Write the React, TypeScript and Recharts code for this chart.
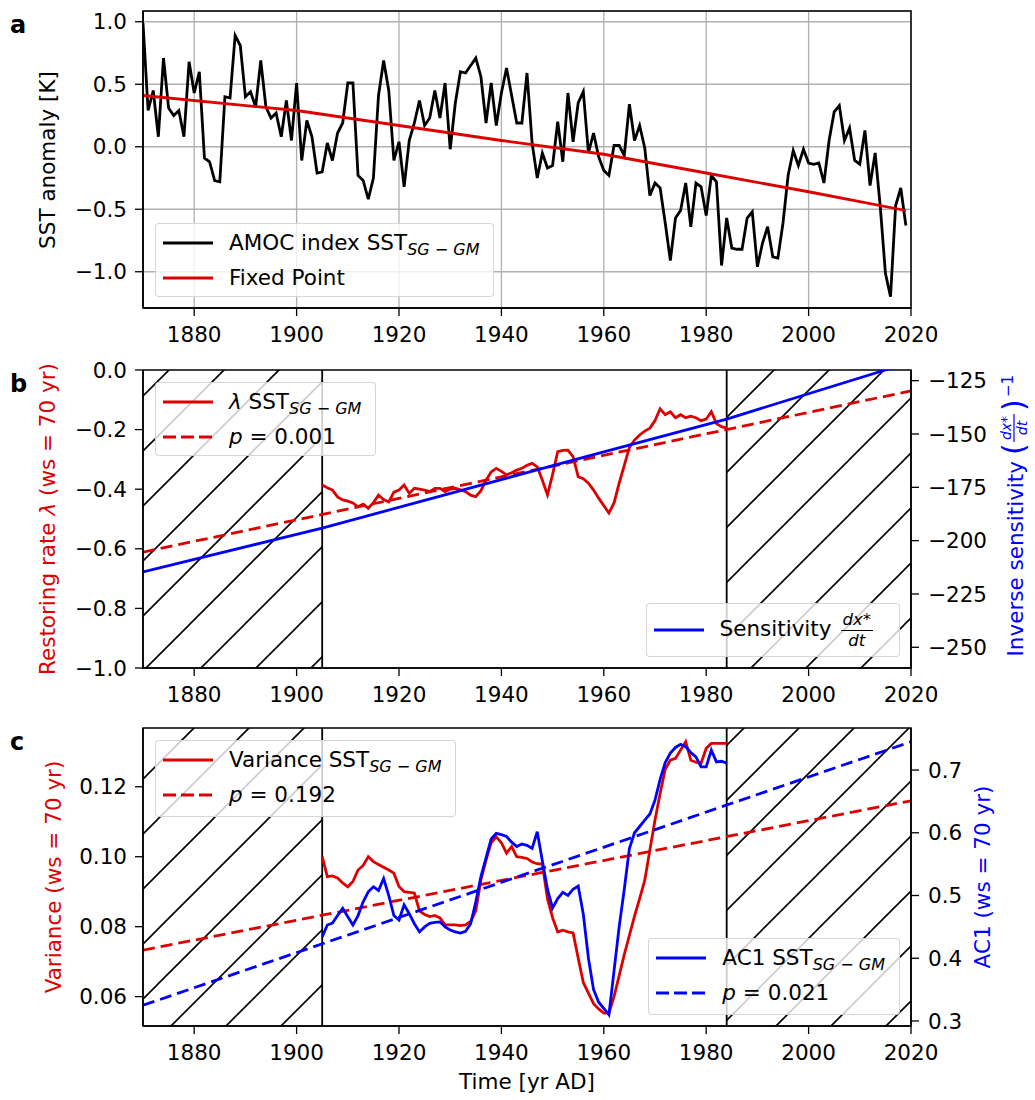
import React from "react";
import {
  LineChart,
  Line,
  XAxis,
  YAxis,
  CartesianGrid,
  ReferenceArea,
  ReferenceLine,
} from "recharts";

const FONT = '"DejaVu Sans", sans-serif';
const RED = "#dc0000";
const BLUE = "#0000ff";

// ---- shared
const yearTicks = [1880, 1900, 1920, 1940, 1960, 1980, 2000, 2020];

// ---- panel a: AMOC index SST(SG-GM), yearly 1870..2019
const sstStart = 1870;
const sstAnomaly = [
  0.99, 0.29, 0.45, 0.08, 0.71, 0.31, 0.25, 0.29, 0.08, 0.68,
  0.43, 0.6, -0.09, -0.12, -0.27, -0.28, 0.4, 0.39, 0.89, 0.81,
  0.4, 0.44, 0.32, 0.69, 0.32, 0.23, 0.27, 0.08, 0.37, 0.05,
  0.51, -0.11, 0.21, 0.08, -0.21, -0.2, 0.03, -0.11, 0.11, 0.19,
  0.51, 0.51, -0.23, -0.27, -0.42, -0.25, 0.41, 0.69, 0.45, -0.11,
  0.04, -0.32, 0.05, 0.19, 0.37, 0.17, 0.23, 0.45, 0.23, 0.51,
  -0.02, 0.35, 0.6, 0.59, 0.65, 0.71, 0.56, 0.19, 0.51, 0.17,
  0.43, 0.63, 0.41, 0.19, 0.19, 0.59, 0.03, -0.25, -0.05, -0.17,
  -0.15, 0.2, -0.12, 0.43, 0.04, 0.35, 0.44, -0.05, 0.11, -0.08,
  -0.19, -0.23, 0.01, 0.01, -0.07, 0.34, 0.05, 0.17, -0.01, -0.39,
  -0.29, -0.33, -0.61, -0.91, -0.57, -0.51, -0.29, -0.64, -0.29, -0.32,
  -0.55, -0.23, -0.28, -0.95, -0.57, -0.81, -0.82, -0.82, -0.57, -0.52,
  -0.96, -0.77, -0.64, -0.88, -0.89, -0.61, -0.23, -0.03, -0.15, -0.02,
  -0.13, -0.14, -0.13, -0.29, 0.05, 0.28, 0.33, 0.05, 0.15, -0.11,
  -0.14, 0.13, -0.31, -0.05, -0.48, -1.01, -1.2, -0.47, -0.33, -0.63,
];
const fixedPointYears = [1870, 1900, 1920, 1940, 1960, 1980, 2000, 2019];
const fixedPointValues = [0.41, 0.29, 0.17, 0.05, -0.06, -0.21, -0.36, -0.51];

// ---- panel b: restoring rate, window 1905..1984
const windowStart = 1905;
const lambdaValues = [
  -0.386, -0.395, -0.403, -0.426, -0.436, -0.44, -0.446, -0.459, -0.45, -0.464,
  -0.445, -0.42, -0.435, -0.443, -0.41, -0.403, -0.386, -0.414, -0.397, -0.4,
  -0.403, -0.408, -0.397, -0.397, -0.408, -0.4, -0.397, -0.402, -0.408, -0.42,
  -0.425, -0.405, -0.37, -0.342, -0.33, -0.34, -0.352, -0.345, -0.336, -0.33,
  -0.32, -0.313, -0.325, -0.37, -0.419, -0.35, -0.274, -0.27, -0.269, -0.291,
  -0.358, -0.365, -0.38, -0.403, -0.43, -0.455, -0.48, -0.446, -0.38, -0.32,
  -0.26, -0.235, -0.218, -0.205, -0.195, -0.17, -0.13, -0.15, -0.14, -0.16,
  -0.15, -0.16, -0.155, -0.16, -0.17, -0.165, -0.14, -0.18, -0.19, -0.195,
];
const trendYears = [1870, 2020];
const lambdaTrend = [-0.611, -0.07];
const sensYears = [1870, 1905, 1960, 1984, 2015, 2020];
const sensValues = [-214.7, -194.1, -158.4, -143.0, -120.0, -116.5];

// ---- panel c: variance and AC1, window 1905..1984
const varianceValues = [
  0.1, 0.0943, 0.0945, 0.0939, 0.0925, 0.0914, 0.0929, 0.0962, 0.0975, 0.1,
  0.0986, 0.0978, 0.097, 0.0962, 0.0953, 0.0915, 0.09, 0.0898, 0.0896, 0.0845,
  0.0835, 0.0829, 0.0832, 0.0825, 0.0805, 0.0805, 0.0805, 0.0803, 0.0805, 0.0815,
  0.0845, 0.0934, 0.099, 0.104, 0.1057, 0.104, 0.101, 0.1029, 0.1, 0.0998,
  0.0995, 0.0985, 0.098, 0.0979, 0.088, 0.0825, 0.0785, 0.079, 0.0785, 0.0782,
  0.071, 0.064, 0.061, 0.058, 0.0565, 0.0553, 0.0553, 0.06, 0.066, 0.072,
  0.0775, 0.083, 0.088, 0.0933, 0.1019, 0.1105, 0.1181, 0.125, 0.1276, 0.1281,
  0.1305, 0.1329, 0.1276, 0.127, 0.1267, 0.131, 0.1324, 0.1324, 0.1324, 0.1324,
];
const ac1Values = [
  0.434, 0.453, 0.456, 0.468, 0.4795, 0.466, 0.453, 0.468, 0.49, 0.506,
  0.514, 0.508, 0.527, 0.5, 0.468, 0.461, 0.485, 0.471, 0.455, 0.442,
  0.45, 0.4555, 0.457, 0.458, 0.45, 0.445, 0.442, 0.44, 0.443, 0.455,
  0.49, 0.53, 0.56, 0.59, 0.599, 0.597, 0.594, 0.585, 0.578, 0.582,
  0.58, 0.575, 0.6016, 0.555, 0.51, 0.48, 0.495, 0.505, 0.5, 0.51,
  0.515, 0.47, 0.4, 0.35, 0.33, 0.32, 0.31, 0.38, 0.45, 0.51,
  0.575, 0.6, 0.61, 0.62, 0.63, 0.652, 0.685, 0.712, 0.727, 0.736,
  0.741, 0.737, 0.728, 0.721, 0.705, 0.705, 0.732, 0.713, 0.714, 0.711,
];
const varianceTrend = [0.0733, 0.116];
const ac1Trend = [0.325, 0.745];

// tables for recharts
const series = (years: number[], values: number[]) =>
  years.map((year, i) => ({ year, v: values[i] }));
const fromStart = (start: number, values: number[]) =>
  values.map((v, i) => ({ year: start + i, v }));

const sstData = fromStart(sstStart, sstAnomaly);
const fixedData = series(fixedPointYears, fixedPointValues);
const lambdaData = fromStart(windowStart, lambdaValues);
const lambdaTrendData = series(trendYears, lambdaTrend);
const sensData = series(sensYears, sensValues);
const varianceData = fromStart(windowStart, varianceValues);
const ac1Data = fromStart(windowStart, ac1Values);
const varianceTrendData = series(trendYears, varianceTrend);
const ac1TrendData = series(trendYears, ac1Trend);

const minus = (s: string) => s.replace("-", "\u2212");
const fmt1 = (v: number) => minus(v.toFixed(1));
const fmt2 = (v: number) => v.toFixed(2);
const fmtInt = (v: number) => minus(String(v));

const tick = { fill: "#000", fontSize: 21.5, fontFamily: FONT };
const axisLine = { stroke: "#000", strokeWidth: 1.5 };
const tickLine = { stroke: "#000", strokeWidth: 1.3 };

const xAxisProps = {
  dataKey: "year",
  type: "number" as const,
  domain: [1870, 2020],
  ticks: yearTicks,
  interval: 0 as const,
  tick,
  axisLine,
  tickLine,
  tickSize: 8,
  tickMargin: 11,
  height: 30,
  allowDataOverflow: true,
};

const lineBase = {
  dataKey: "v",
  dot: false,
  activeDot: false,
  isAnimationActive: false,
  strokeWidth: 2.8,
};

const Hatch = ({ id, shift }: { id: string; shift: number }) => (
  <defs>
    <pattern id={id} patternUnits="userSpaceOnUse" width={55} height={55} x={shift}>
      <path d="M0,55 L55,0 M-5,5 L5,-5 M50,60 L60,50" stroke="#000" strokeWidth={1.6} />
    </pattern>
  </defs>
);

const Sub = () => (
  <sub style={{ fontSize: 16, fontStyle: "italic", verticalAlign: "-0.3em", lineHeight: 0 }}>
    SG − GM
  </sub>
);

const Frac = ({ num, den }: { num: string; den: string }) => (
  <span
    style={{
      display: "inline-flex",
      flexDirection: "column",
      alignItems: "center",
      verticalAlign: "middle",
      fontStyle: "italic",
      fontSize: 16.5,
      lineHeight: 1.05,
      margin: "0 4px 0 9px",
    }}
  >
    <span style={{ borderBottom: "1.3px solid #000", padding: "0 2px 1px" }}>{num}</span>
    <span style={{ paddingTop: 1 }}>{den}</span>
  </span>
);

type Row = { color: string; dashed?: boolean; label: React.ReactNode; height?: number };

function LegendBox({ pos, rows, padBottom = 1, padRight = 14 }: { pos: React.CSSProperties; rows: Row[]; padBottom?: number; padRight?: number }) {
  return (
    <div
      style={{
        position: "absolute",
        background: "rgba(255,255,255,0.8)",
        border: "1px solid rgba(204,204,204,0.8)",
        borderRadius: 4,
        padding: `1px ${padRight}px ${padBottom}px 7px`,
        fontFamily: FONT,
        fontSize: 21.5,
        color: "#000",
        ...pos,
      }}
    >
      {rows.map((r, i) => (
        <div key={i} style={{ display: "flex", alignItems: "center", height: r.height ?? 35 }}>
          <svg width={50} height={10} style={{ marginRight: 16, flex: "none" }}>
            <line
              x1={0}
              x2={50}
              y1={5}
              y2={5}
              stroke={r.color}
              strokeWidth={3}
              strokeDasharray={r.dashed ? "13 5" : undefined}
            />
          </svg>
          <span style={{ whiteSpace: "nowrap", lineHeight: 1 }}>{r.label}</span>
        </div>
      ))}
    </div>
  );
}

function PanelA() {
  return (
    <LineChart width={1035} height={350} margin={{ top: 11, right: 124, bottom: 12, left: 83 }}>
      <CartesianGrid stroke="#b0b0b0" strokeWidth={1.3} />
      <XAxis {...xAxisProps} />
      <YAxis
        type="number"
        domain={[-1.29, 1.086]}
        ticks={[-1, -0.5, 0, 0.5, 1]}
        interval={0}
        tickFormatter={fmt1}
        tick={tick}
        axisLine={axisLine}
        tickLine={tickLine}
        tickSize={8}
        tickMargin={8}
        width={60}
        allowDataOverflow
      />
      <ReferenceArea x1={1870} x2={2020} y1={-1.29} y2={1.086} fill="none" stroke="#000" strokeWidth={1.5} />
      <Line {...lineBase} data={sstData} stroke="#000" />
      <Line {...lineBase} data={fixedData} stroke={RED} />
      <text x={47} y={160} transform="rotate(-90 47 160)" textAnchor="middle" dominantBaseline="central" fontSize={21.5} fontFamily={FONT}>
        SST anomaly [K]
      </text>
      <text x={10} y={33} fontSize={24} fontWeight="bold" fontFamily={FONT}>a</text>
    </LineChart>
  );
}

function PanelB() {
  return (
    <LineChart width={1035} height={360} margin={{ top: 20, right: 64, bottom: 12, left: 83 }}>
      <Hatch id="hatchB" shift={24} />
      <XAxis {...xAxisProps} />
      <YAxis
        yAxisId="left"
        type="number"
        domain={[-1, 0]}
        ticks={[-1, -0.8, -0.6, -0.4, -0.2, 0]}
        interval={0}
        tickFormatter={fmt1}
        tick={tick}
        axisLine={axisLine}
        tickLine={tickLine}
        tickSize={8}
        tickMargin={8}
        width={60}
        allowDataOverflow
      />
      <YAxis
        yAxisId="right"
        orientation="right"
        type="number"
        domain={[-259.7, -120]}
        ticks={[-250, -225, -200, -175, -150, -125]}
        interval={0}
        tickFormatter={fmtInt}
        tick={tick}
        axisLine={axisLine}
        tickLine={tickLine}
        tickSize={8}
        tickMargin={9}
        width={60}
        allowDataOverflow
      />
      <ReferenceArea yAxisId="left" x1={1870} x2={1905} fill="url(#hatchB)" fillOpacity={1} stroke="none" />
      <ReferenceArea yAxisId="left" x1={1984} x2={2020} fill="url(#hatchB)" fillOpacity={1} stroke="none" />
      <ReferenceLine yAxisId="left" x={1905} stroke="#000" strokeWidth={1.8} />
      <ReferenceLine yAxisId="left" x={1984} stroke="#000" strokeWidth={1.8} />
      <ReferenceArea yAxisId="left" x1={1870} x2={2020} y1={-1} y2={0} fill="none" stroke="#000" strokeWidth={1.5} />
      <Line {...lineBase} yAxisId="left" data={lambdaTrendData} stroke={RED} strokeDasharray="12 6" />
      <Line {...lineBase} yAxisId="left" data={lambdaData} stroke={RED} />
      <Line {...lineBase} yAxisId="right" data={sensData} stroke={BLUE} />
      <text x={47} y={169} transform="rotate(-90 47 169)" textAnchor="middle" dominantBaseline="central" fontSize={21.5} fontFamily={FONT} fill={RED}>
        Restoring rate <tspan fontStyle="italic">λ</tspan> (ws = 70 yr)
      </text>
      <g transform="translate(1023 169) rotate(-90)" fill={BLUE} fontFamily={FONT}>
        <text x={58} y={0} textAnchor="end" fontSize={21.5}>Inverse sensitivity</text>
        <text x={64} y={1} fontSize={30}>(</text>
        <text x={91} y={-12} textAnchor="middle" fontSize={14} fontStyle="italic">dx*</text>
        <line x1={77} x2={105} y1={-9} y2={-9} stroke={BLUE} strokeWidth={1.2} />
        <text x={91} y={4} textAnchor="middle" fontSize={14} fontStyle="italic">dt</text>
        <text x={108} y={1} fontSize={30}>)</text>
        <text x={122} y={-10} fontSize={15}>−1</text>
      </g>
      <text x={10} y={42} fontSize={24} fontWeight="bold" fontFamily={FONT}>b</text>
    </LineChart>
  );
}

function PanelC() {
  return (
    <LineChart width={1035} height={390} margin={{ top: 18, right: 64, bottom: 44, left: 83 }}>
      <Hatch id="hatchC" shift={47} />
      <XAxis {...xAxisProps} />
      <YAxis
        yAxisId="left"
        type="number"
        domain={[0.0516, 0.1368]}
        ticks={[0.06, 0.08, 0.1, 0.12]}
        interval={0}
        tickFormatter={fmt2}
        tick={tick}
        axisLine={axisLine}
        tickLine={tickLine}
        tickSize={8}
        tickMargin={8}
        width={60}
        allowDataOverflow
      />
      <YAxis
        yAxisId="right"
        orientation="right"
        type="number"
        domain={[0.292, 0.767]}
        ticks={[0.3, 0.4, 0.5, 0.6, 0.7]}
        interval={0}
        tickFormatter={fmt1}
        tick={tick}
        axisLine={axisLine}
        tickLine={tickLine}
        tickSize={8}
        tickMargin={9}
        width={60}
        allowDataOverflow
      />
      <ReferenceArea yAxisId="left" x1={1870} x2={1905} fill="url(#hatchC)" fillOpacity={1} stroke="none" />
      <ReferenceArea yAxisId="left" x1={1984} x2={2020} fill="url(#hatchC)" fillOpacity={1} stroke="none" />
      <ReferenceLine yAxisId="left" x={1905} stroke="#000" strokeWidth={1.8} />
      <ReferenceLine yAxisId="left" x={1984} stroke="#000" strokeWidth={1.8} />
      <ReferenceArea yAxisId="left" x1={1870} x2={2020} y1={0.0516} y2={0.1368} fill="none" stroke="#000" strokeWidth={1.5} />
      <Line {...lineBase} yAxisId="left" data={varianceData} stroke={RED} />
      <Line {...lineBase} yAxisId="left" data={varianceTrendData} stroke={RED} strokeDasharray="12 6" />
      <Line {...lineBase} yAxisId="right" data={ac1Data} stroke={BLUE} />
      <Line {...lineBase} yAxisId="right" data={ac1TrendData} stroke={BLUE} strokeDasharray="12 6" />
      <text x={53} y={167} transform="rotate(-90 53 167)" textAnchor="middle" dominantBaseline="central" fontSize={21.5} fontFamily={FONT} fill={RED}>
        Variance (ws = 70 yr)
      </text>
      <text x={982} y={167} transform="rotate(-90 982 167)" textAnchor="middle" dominantBaseline="central" fontSize={21.5} fontFamily={FONT} fill={BLUE}>
        AC1 (ws = 70 yr)
      </text>
      <text x={527} y={379} textAnchor="middle" fontSize={21.5} fontFamily={FONT}>
        Time [yr AD]
      </text>
      <text x={10} y={40} fontSize={24} fontWeight="bold" fontFamily={FONT}>c</text>
    </LineChart>
  );
}

export default function App() {
  return (
    <div
      style={{
        position: "absolute",
        left: 0,
        top: 0,
        width: 1035,
        height: 1100,
        background: "#fff",
        fontFamily: FONT,
        overflow: "hidden",
      }}
    >
      <div style={{ position: "absolute", left: 0, top: 0 }}>
        <PanelA />
      </div>
      <div style={{ position: "absolute", left: 0, top: 350 }}>
        <PanelB />
      </div>
      <div style={{ position: "absolute", left: 0, top: 710 }}>
        <PanelC />
      </div>

      <LegendBox
        pos={{ left: 155, top: 223 }}
        rows={[
          { color: "#000", label: <>AMOC index SST<Sub /></> },
          { color: RED, label: "Fixed Point" },
        ]}
      />
      <LegendBox
        pos={{ left: 155, top: 382 }}
        rows={[
          { color: RED, label: <><i>λ</i> SST<Sub /></> },
          { color: RED, dashed: true, label: <><i>p</i> = 0.001</> },
        ]}
      />
      <LegendBox
        pos={{ right: 135, top: 603 }}
        padRight={22}
        rows={[
          {
            color: BLUE,
            height: 50,
            label: (
              <>
                Sensitivity
                <Frac num="dx*" den="dt" />
              </>
            ),
          },
        ]}
      />
      <LegendBox
        pos={{ left: 155, top: 740 }}
        padBottom={4}
        rows={[
          { color: RED, label: <>Variance SST<Sub /></> },
          { color: RED, dashed: true, label: <><i>p</i> = 0.192</> },
        ]}
      />
      <LegendBox
        pos={{ right: 135, top: 938 }}
        padBottom={4}
        rows={[
          { color: BLUE, label: <>AC1 SST<Sub /></> },
          { color: BLUE, dashed: true, label: <><i>p</i> = 0.021</> },
        ]}
      />
    </div>
  );
}
